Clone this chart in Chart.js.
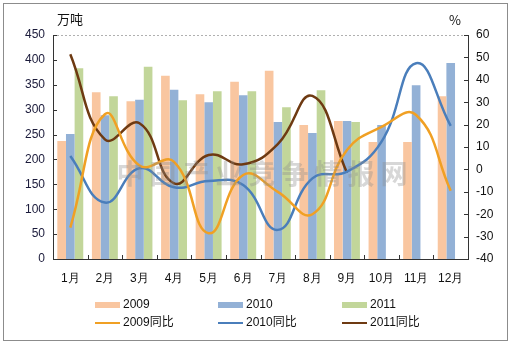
<!DOCTYPE html>
<html>
<head>
<meta charset="utf-8">
<script src="https://cdn.jsdelivr.net/npm/chart.js@4"></script>
<style>
  body { margin: 0; background: #fff; }
  #wrap { position: relative; width: 513px; height: 347px; }
  #frame { position: absolute; left: 3px; top: 3px; width: 505px; height: 338px; border: 1px solid #8c8c8c; box-sizing: border-box; }
  .unit { position: absolute; font: 13px "Noto Sans CJK SC", sans-serif; color: #111; }
  #legend { position: absolute; left: 0; top: 297px; width: 513px; font: 12px "Liberation Sans", "Noto Sans CJK SC", sans-serif; color: #111; }
  .item { position: absolute; height: 14px; line-height: 14px; }
  .sw { display: inline-block; width: 25px; vertical-align: middle; margin-right: 3px; }
</style>
</head>
<body>
<div id="wrap">
  <canvas id="chart" width="513" height="347"></canvas>
  <div id="frame"></div>
  <div class="unit" style="left:57px;top:9px">万吨</div>
  <div class="unit" style="left:449px;top:10px">%</div>
  <div id="legend"></div>
</div>
<script>
'use strict'

const months = ['1月', '2月', '3月', '4月', '5月', '6月', '7月', '8月', '9月', '10月', '11月', '12月']

const v2009 = [237, 335, 317, 368, 331, 356, 378, 269, 277, 235, 235, 327]
const v2010 = [251, 289, 320, 340, 315, 329, 275, 253, 277, 269, 349, 394]
const v2011 = [383, 327, 386, 319, 337, 337, 305, 339, 275, null, null, null]

const yoy2009 = [-26, 24.6, 1.7, 3.4, -28.5, -2.5, -10, -20, 8.7, 19, 24.3, -9.5]
const yoy2010 = [6, -14.8, 0.5, -8, -5.2, -7, -27, -4, -1, 12.4, 47.4, 19.4]
const yoy2011 = [51.4, 13.4, 20.6, -6.2, 6.4, 2.3, 11.3, 32.8, -1.5, null, null, null]

const leftTicks = [0, 50, 100, 150, 200, 250, 300, 350, 400, 450]
const rightTicks = [-40, -30, -20, -10, 0, 10, 20, 30, 40, 50, 60]

const colors = {
  b2009: '#F9C6A0', b2010: '#93B1D6', b2011: '#C2D69A',
  l2009: '#F0A024', l2010: '#4A7EBB', l2011: '#6E3A12'
}

const font = { family: 'Liberation Sans', size: 12 }

const marks = {
  id: 'marks',
  beforeDatasetsDraw(chart) {
    // dashed top border of plot area
    const { ctx, chartArea } = chart
    ctx.save()
    ctx.strokeStyle = '#b0b0b0'
    ctx.setLineDash([2, 2])
    ctx.lineWidth = 1
    ctx.beginPath()
    ctx.moveTo(chartArea.left, chartArea.top + 0.5)
    ctx.lineTo(chartArea.right, chartArea.top + 0.5)
    ctx.stroke()
    ctx.restore()
  },
  afterDraw(chart) {
    const { ctx, chartArea, scales } = chart
    ctx.save()
    ctx.strokeStyle = '#333'
    ctx.lineWidth = 1
    ctx.beginPath()
    leftTicks.forEach(t => {
      const y = Math.round(scales.y.getPixelForValue(t)) + 0.5
      ctx.moveTo(chartArea.left, y); ctx.lineTo(chartArea.left + 4, y)
    })
    rightTicks.forEach(t => {
      const y = Math.round(scales.y1.getPixelForValue(t)) + 0.5
      ctx.moveTo(chartArea.right, y); ctx.lineTo(chartArea.right - 4, y)
    })
    for (let i = 1; i < months.length; i++) {
      const x = Math.round((scales.x.getPixelForTick(i - 1) + scales.x.getPixelForTick(i)) / 2) + 0.5
      ctx.moveTo(x, chartArea.bottom); ctx.lineTo(x, chartArea.bottom - 4)
    }
    ctx.stroke()
    // watermark
    ctx.fillStyle = 'rgba(140,140,140,0.35)'
    ctx.font = 'bold 27px "Noto Sans CJK SC"'
    ctx.textAlign = 'center'
    ctx.textBaseline = 'middle'
    const wm = '中国产业竞争情报网'
    for (let i = 0; i < wm.length; i++) {
      ctx.fillText(wm[i], 130 + i * 33, 174)
    }
    ctx.restore()
  }
}

const ctx = document.getElementById('chart')

const chart = new Chart(ctx, {
  type: 'bar',
  data: {
    labels: months,
    datasets: [
      { type: 'line', label: '2009同比', data: yoy2009, yAxisID: 'y1', borderColor: colors.l2009, borderWidth: 2.5, pointRadius: 0, tension: 0.45, order: 1 },
      { type: 'line', label: '2010同比', data: yoy2010, yAxisID: 'y1', borderColor: colors.l2010, borderWidth: 2.5, pointRadius: 0, tension: 0.45, order: 1 },
      { type: 'line', label: '2011同比', data: yoy2011, yAxisID: 'y1', borderColor: colors.l2011, borderWidth: 2.5, pointRadius: 0, tension: 0.45, order: 1 },
      { label: '2009', data: v2009, backgroundColor: colors.b2009, order: 2 },
      { label: '2010', data: v2010, backgroundColor: colors.b2010, order: 2 },
      { label: '2011', data: v2011, backgroundColor: colors.b2011, order: 2 }
    ]
  },
  options: {
    responsive: false,
    animation: false,
    layout: { padding: { top: 35, left: 0, right: 0, bottom: 0 } },
    datasets: { bar: { barPercentage: 1, categoryPercentage: 0.75 } },
    plugins: { legend: { display: false }, tooltip: { enabled: false } },
    scales: {
      x: {
        grid: { display: false, drawTicks: false },
        border: { color: '#333' },
        ticks: { color: '#111', font: font, padding: 12, maxRotation: 0, autoSkip: false },
        afterFit(s) { s.height = 88 }
      },
      y: {
        position: 'left', min: 0, max: 450,
        grid: { display: false, drawTicks: false },
        border: { color: '#333' },
        ticks: { stepSize: 50, color: '#1a1a3a', font: font, padding: 8 },
        afterFit(s) { s.width = 53 }
      },
      y1: {
        position: 'right', min: -40, max: 60,
        grid: { display: false, drawTicks: false },
        border: { color: '#333' },
        ticks: { stepSize: 10, color: '#111', font: font, padding: 8 },
        afterFit(s) { s.width = 45 }
      }
    }
  },
  plugins: [marks]
})

// legend in a 3 x 2 grid like the original
const legendItems = [
  { text: '2009', color: colors.b2009, bar: true, x: 95, y: 0 },
  { text: '2010', color: colors.b2010, bar: true, x: 218, y: 0 },
  { text: '2011', color: colors.b2011, bar: true, x: 342, y: 0 },
  { text: '2009同比', color: colors.l2009, bar: false, x: 95, y: 18 },
  { text: '2010同比', color: colors.l2010, bar: false, x: 218, y: 18 },
  { text: '2011同比', color: colors.l2011, bar: false, x: 342, y: 18 }
]
const legend = document.getElementById('legend')
legendItems.forEach(it => {
  const d = document.createElement('div')
  d.className = 'item'
  d.style.left = it.x + 'px'
  d.style.top = it.y + 'px'
  const sw = document.createElement('span')
  sw.className = 'sw'
  sw.style.height = it.bar ? '6px' : '2px'
  sw.style.background = it.color
  d.appendChild(sw)
  d.appendChild(document.createTextNode(it.text))
  legend.appendChild(d)
})
</script>
</body>
</html>
